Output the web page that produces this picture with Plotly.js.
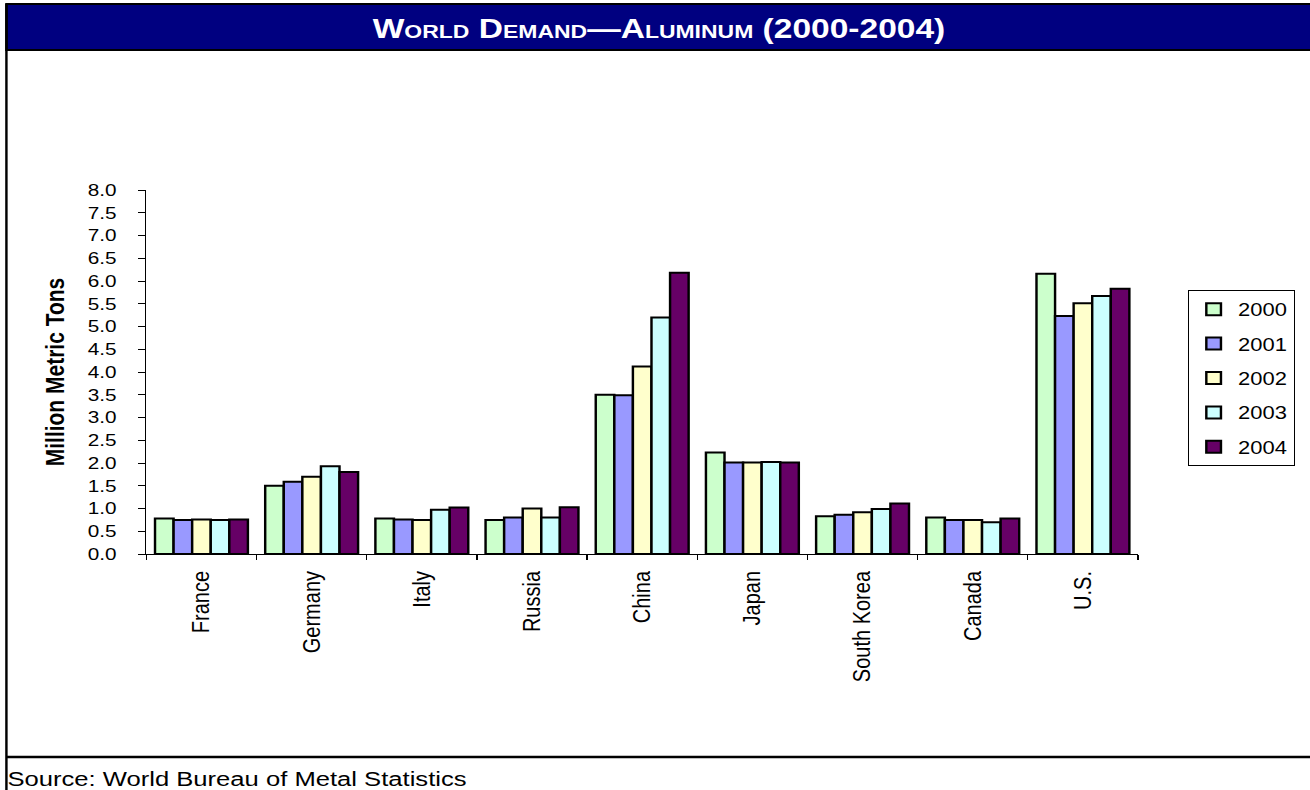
<!DOCTYPE html>
<html>
<head>
<meta charset="utf-8">
<script src="https://cdn.plot.ly/plotly-3.0.1.min.js"></script>
<style>
  html, body { margin: 0; padding: 0; background: #fff; overflow: hidden; }
  #frame { width: 1310px; height: 790px; overflow: hidden; }
  /* the chart is laid out on a narrower canvas and widened to fill the frame */
  #chart { width: 1074px; height: 790px; transform: scaleX(1.219739); transform-origin: 0 0; }
</style>
</head>
<body>
<div id="frame"><div id="chart"></div></div>
<script>
// Aluminum demand by country, million metric tons
const categories = ['France', 'Germany', 'Italy', 'Russia', 'China', 'Japan', 'South Korea', 'Canada', 'U.S.'];
const years = ['2000', '2001', '2002', '2003', '2004'];
const demand2000 = [0.78, 1.50, 0.78, 0.75, 3.50, 2.23, 0.83, 0.80, 6.16];
const demand2001 = [0.75, 1.59, 0.76, 0.80, 3.49, 2.01, 0.86, 0.75, 5.23];
const demand2002 = [0.76, 1.70, 0.75, 1.00, 4.12, 2.01, 0.92, 0.75, 5.51];
const demand2003 = [0.75, 1.93, 0.97, 0.80, 5.20, 2.02, 0.99, 0.70, 5.67];
const demand2004 = [0.76, 1.80, 1.02, 1.03, 6.18, 2.01, 1.11, 0.78, 5.83];
const seriesValues = [demand2000, demand2001, demand2002, demand2003, demand2004];
const seriesColors = ['#CCFFCC', '#9999FF', '#FFFFCC', '#CCFFFF', '#660066'];

const FONT = 'Liberation Sans, Arial, sans-serif';
const STRETCH = 1310 / 1074;
const W = 1074, H = 790;
const margin = { l: 146 / STRETCH, r: W - 1138 / STRETCH, t: 190, b: 236, pad: 0 };
const plotW = W - margin.l - margin.r;
const plotH = H - margin.t - margin.b;
// frame pixel -> paper coordinate helpers for the decorations
const fx = x => (x / STRETCH - margin.l) / plotW;
const fy = y => (H - margin.b - y) / plotH;

const traces = years.map((yr, i) => ({
  type: 'bar',
  name: yr,
  legendgroup: yr,
  x: categories,
  y: seriesValues[i],
  marker: { color: seriesColors[i], line: { color: '#000000', width: 2 } },
  hoverinfo: 'skip'
}));

const layout = {
  width: W,
  height: H,
  margin: margin,
  paper_bgcolor: '#ffffff',
  plot_bgcolor: '#ffffff',
  font: { family: FONT, color: '#000000' },
  barmode: 'group',
  bargap: 0.157,
  bargroupgap: 0,
  showlegend: true,
  title: {
    text: 'World Demand\u2014Aluminum (2000-2004)',
    font: { family: FONT, size: 27.5, color: '#ffffff', weight: 'bold', variant: 'small-caps' },
    xref: 'container', x: 659 / 1310, xanchor: 'center',
    yref: 'container', y: 1 - 28 / H, yanchor: 'middle'
  },
  xaxis: {
    type: 'category',
    showline: true, linecolor: '#000000', linewidth: 1,
    ticks: 'outside', tickson: 'boundaries', ticklen: 5, tickcolor: '#000000', tickwidth: 1,
    tickangle: -90,
    tickfont: { family: FONT, size: 20, color: '#000000' },
    ticklabelstandoff: 8,
    showgrid: false, zeroline: false, automargin: false, fixedrange: true
  },
  yaxis: {
    range: [0, 8], tick0: 0, dtick: 0.5, tickformat: '.1f',
    showline: true, linecolor: '#000000', linewidth: 1,
    ticks: 'outside', ticklen: 6, tickcolor: '#000000', tickwidth: 1,
    tickfont: { family: FONT, size: 17, color: '#000000' },
    ticklabelstandoff: 14,
    showgrid: false, zeroline: false, automargin: false, fixedrange: true,
    title: {
      text: 'Million Metric Tons',
      font: { family: FONT, size: 21, color: '#000000', weight: 'bold' },
      standoff: 13
    }
  },
  legend: {
    xref: 'container', x: 974 / W, xanchor: 'left',
    yref: 'container', y: 1 - 290 / H, yanchor: 'top',
    bgcolor: '#ffffff', bordercolor: '#000000', borderwidth: 1,
    font: { family: FONT, size: 18, color: '#000000' },
    traceorder: 'grouped', tracegroupgap: 8
  },
  shapes: [
    // title banner
    { type: 'rect', xref: 'paper', yref: 'paper', x0: fx(6), x1: fx(1340), y0: fy(50), y1: fy(4),
      fillcolor: '#000080', line: { color: '#000000', width: 2 }, layer: 'below' },
    // left frame edge
    { type: 'line', xref: 'paper', yref: 'paper', x0: fx(6), x1: fx(6), y0: fy(4), y1: fy(800),
      line: { color: '#000000', width: 2 } },
    // rule above the source note
    { type: 'line', xref: 'paper', yref: 'paper', x0: fx(6), x1: fx(1340), y0: fy(757), y1: fy(757),
      line: { color: '#000000', width: 2.5 } }
  ],
  annotations: [
    { text: 'Source: World Bureau of Metal Statistics', showarrow: false,
      xref: 'paper', x: fx(5), xanchor: 'left',
      yref: 'paper', y: fy(778), yanchor: 'middle',
      font: { family: FONT, size: 21, color: '#000000' } }
  ]
};

Plotly.newPlot('chart', traces, layout, { displayModeBar: false, staticPlot: true });
</script>
</body>
</html>
